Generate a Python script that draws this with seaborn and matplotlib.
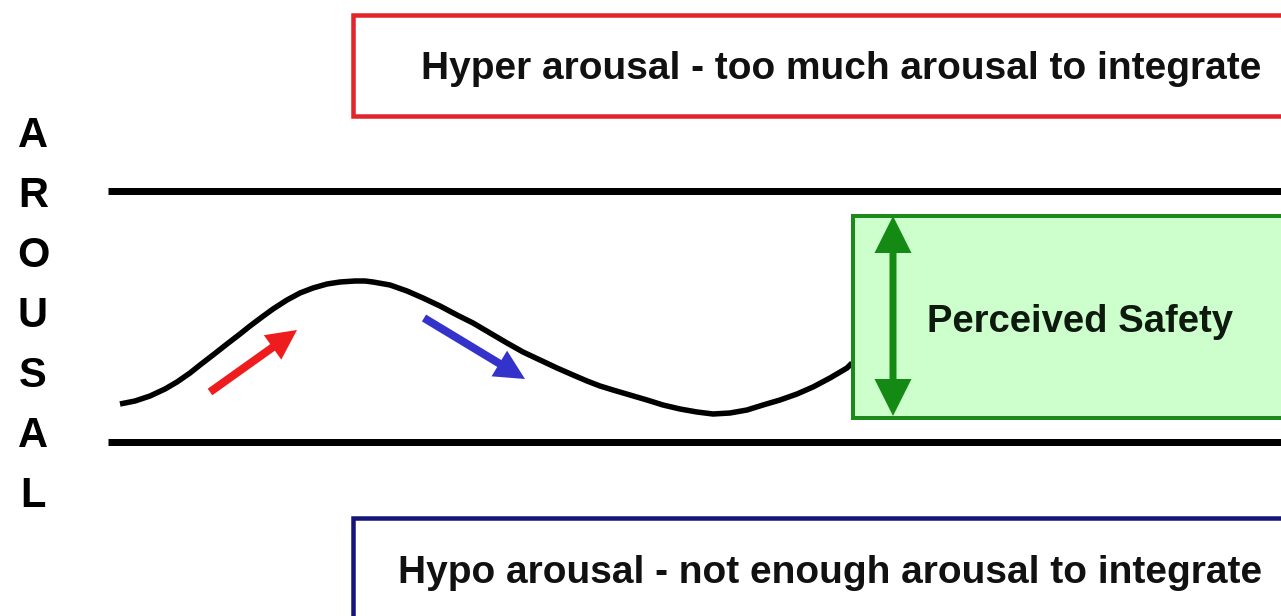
import matplotlib
matplotlib.use("Agg")
import matplotlib.pyplot as plt
import seaborn as sns
import pandas as pd
from matplotlib.patches import Rectangle, FancyArrow

# ---- data (pixel coordinates) ----
curve_x = [120, 135, 150, 165, 177, 190, 200, 213, 227, 240, 250, 262, 273, 287,
           300, 313, 327, 340, 355, 365, 373, 390, 407, 423, 440, 457, 473, 490,
           507, 523, 540, 557, 573, 587, 600, 613, 630, 647, 663, 680, 697, 713,
           730, 747, 763, 780, 797, 813, 830, 847, 852]
curve_y = [404, 401, 396, 389, 382, 373, 365, 355, 344, 334, 326, 317, 309, 300,
           293, 288, 284, 282, 281, 281, 282, 285, 291, 298, 306, 315, 323, 333,
           343, 352, 360, 368, 375, 381, 386, 390, 395, 400, 405, 409, 412, 414,
           413, 410, 405, 400, 394, 387, 378, 368, 363]
axis_letters = ["A", "R", "O", "U", "S", "A", "L"]
hyper_label = "Hyper arousal - too much arousal to integrate"
hypo_label = "Hypo arousal - not enough arousal to integrate"
safety_label = "Perceived Safety"

sns.set_theme(style="white")
plt.rcParams["font.family"] = ["Liberation Sans", "DejaVu Sans"]

W, H = 1281, 616
fig = plt.figure(figsize=(W / 100, H / 100), dpi=100)
ax = fig.add_axes([0, 0, 1, 1])

px = 72 / 100  # points per pixel

# vertical AROUSAL letters
for i, ch in enumerate(axis_letters):
    ax.text(33, 147 + i * 60, ch, ha="center", va="baseline",
            fontsize=30, fontweight="bold", color="black")

# window lines
ax.plot([108, W + 10], [191, 191], color="black", lw=7 * px, solid_capstyle="butt")
ax.plot([108, W + 10], [442, 442], color="black", lw=7 * px, solid_capstyle="butt")

# hyper box (red), open to the right edge
ax.plot([W + 20, 353, 353, W + 20], [15, 15, 116, 116], color="#e3242b",
        lw=4.5 * px, solid_joinstyle="miter", zorder=3)
ax.text(841, 79, hyper_label, ha="center", va="baseline", fontsize=28,
        fontweight="bold", color="#111111", zorder=4)

# hypo box (navy)
ax.plot([W + 20, 353, 353, W + 20], [518, 518, 620, 620], color="#14147a",
        lw=4.5 * px, solid_joinstyle="miter", zorder=3)
ax.text(830, 583, hypo_label, ha="center", va="baseline", fontsize=28,
        fontweight="bold", color="#111111", zorder=4)

# curve
df = pd.DataFrame({"x": curve_x, "y": curve_y})
sns.lineplot(data=df, x="x", y="y", sort=False, color="black", lw=5.5 * px,
             ax=ax, zorder=2, solid_joinstyle="round", solid_capstyle="butt")

# green safety box
ax.add_patch(Rectangle((853, 216), 1000, 202, facecolor="#ccffcc",
                       edgecolor="none", zorder=5))
ax.plot([W + 20, 853, 853, W + 20], [216, 216, 418, 418], color="#1b8a1b",
        lw=4 * px, solid_joinstyle="miter", zorder=5)
ax.text(1080, 332, safety_label, ha="center", va="baseline", fontsize=27.5,
        fontweight="bold", color="#0e1a0e", zorder=6)

# green double arrow
gcol = "#148a14"
for y_tip in (216, 416):
    ax.add_patch(FancyArrow(893, 316, 0, y_tip - 316, width=7, head_width=37,
                            head_length=37, length_includes_head=True,
                            color=gcol, zorder=6, lw=0))

# red rising arrow
ax.add_patch(FancyArrow(210, 392, 297 - 210, 330 - 392, width=8, head_width=30,
                        head_length=30, length_includes_head=True,
                        color="#ee1c1c", zorder=4, lw=0))
# blue falling arrow
ax.add_patch(FancyArrow(424, 318, 525 - 424, 379 - 318, width=8, head_width=30,
                        head_length=30, length_includes_head=True,
                        color="#3333cc", zorder=4, lw=0))

ax.set_xlim(0, W)
ax.set_ylim(H, 0)
ax.axis("off")

fig.savefig("out.png", dpi=100, facecolor="white")
